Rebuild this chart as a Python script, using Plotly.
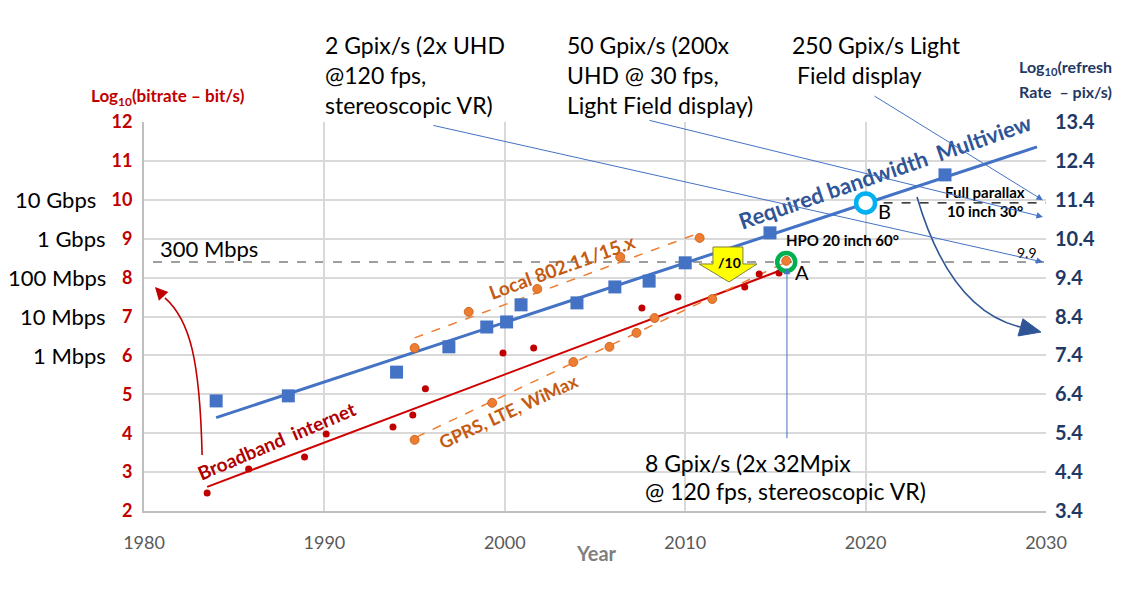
import plotly.graph_objects as go

# ---------------- data ----------------
blue_years = [1984.0, 1988.0, 1994.0, 1996.9, 1999.0, 2000.1, 2000.9, 2004.0, 2006.1, 2008.0, 2010.0, 2014.7, 2024.4]
blue_vals = [4.83, 4.96, 5.57, 6.22, 6.73, 6.86, 7.30, 7.35, 7.76, 7.91, 8.38, 9.15, 10.64]

red_years = [1983.5, 1985.8, 1988.9, 1990.1, 1993.8, 1994.9, 1995.6, 1999.9, 2001.6, 2007.6, 2009.6, 2013.3, 2014.1, 2015.2]
red_vals = [2.46, 3.08, 3.39, 3.98, 4.16, 4.47, 5.14, 6.06, 6.19, 7.22, 7.50, 7.76, 8.09, 8.12]

local_years = [1995.0, 1998.0, 2001.8, 2006.4, 2010.8]
local_vals = [6.19, 7.12, 7.71, 8.53, 9.02]

gprs_years = [1995.0, 1999.3, 2003.8, 2005.8, 2007.3, 2008.3, 2011.5, 2015.6]
gprs_vals = [3.83, 4.78, 5.83, 6.22, 6.58, 6.96, 7.45, 8.43]

blue_trend_years = [1984.0, 2029.5]
blue_trend_vals = [4.40, 11.36]
red_trend_years = [1983.5, 2015.3]
red_trend_vals = [2.62, 8.19]
local_trend_years = [1995.0, 2010.8]
local_trend_vals = [6.45, 9.15]
gprs_trend_years = [1995.1, 2015.6]
gprs_trend_vals = [3.90, 8.40]

point_a = (2015.6, 8.40)
point_b = (2020.0, 9.92)
level_300mbps = 8.40

left_ticks = [2, 3, 4, 5, 6, 7, 8, 9, 10, 11, 12]
right_ticks = [3.4, 4.4, 5.4, 6.4, 7.4, 8.4, 9.4, 10.4, 11.4, 12.4, 13.4]
right_ticktext = ["3.4", "4.4", "5.4", "6.4", "7.4", "8.4", "9.4", "10.4", "11.4", "12.4", "13.4"]
x_ticks = [1980, 1990, 2000, 2010, 2020, 2030]
rate_labels = ["10 Gbps", "1 Gbps", "100 Mbps", "10 Mbps", "1 Mbps"]
rate_levels = [10, 9, 8, 7, 6]

FONT = "Lato"
BLUE = "#4472C4"
RED = "#C00000"
ORANGE = "#ED7D31"
DORANGE = "#C55A11"
NAVY = "#1F3864"

fig = go.Figure()

# trend lines
fig.add_trace(go.Scatter(x=blue_trend_years, y=blue_trend_vals, mode="lines",
                         line=dict(color=BLUE, width=3), showlegend=False, hoverinfo="skip"))
fig.add_trace(go.Scatter(x=red_trend_years, y=red_trend_vals, mode="lines",
                         line=dict(color="#D00000", width=2), showlegend=False, hoverinfo="skip"))
fig.add_trace(go.Scatter(x=local_trend_years, y=local_trend_vals, mode="lines",
                         line=dict(color=ORANGE, width=1.5, dash="dash"), showlegend=False, hoverinfo="skip"))
fig.add_trace(go.Scatter(x=gprs_trend_years, y=gprs_trend_vals, mode="lines",
                         line=dict(color=ORANGE, width=1.5, dash="dash"), showlegend=False, hoverinfo="skip"))

# markers
fig.add_trace(go.Scatter(x=blue_years, y=blue_vals, mode="markers",
                         marker=dict(symbol="square", size=13, color=BLUE), showlegend=False))
fig.add_trace(go.Scatter(x=red_years, y=red_vals, mode="markers",
                         marker=dict(symbol="circle", size=7, color=RED), showlegend=False))
fig.add_trace(go.Scatter(x=local_years + gprs_years, y=local_vals + gprs_vals, mode="markers",
                         marker=dict(symbol="circle", size=9, color=ORANGE,
                                     line=dict(color="#C55A11", width=0.8)), showlegend=False))

# A and B rings
fig.add_trace(go.Scatter(x=[point_a[0]], y=[point_a[1]], mode="markers",
                         marker=dict(symbol="circle-open", size=18, color="#00B050", line=dict(width=4.5)),
                         showlegend=False))
fig.add_trace(go.Scatter(x=[point_b[0]], y=[point_b[1]], mode="markers",
                         marker=dict(symbol="circle", size=19, color="white", line=dict(color="#00B0F0", width=4.5)),
                         showlegend=False))

# invisible trace for right axis
fig.add_trace(go.Scatter(x=[None], y=[None], yaxis="y2", showlegend=False))

shapes = []
# 300 Mbps dashed line
shapes.append(dict(type="line", xref="x", yref="y", x0=1980.5, x1=2030, y0=level_300mbps, y1=level_300mbps,
                   line=dict(color="#7F7F7F", width=1.5, dash="dash"), layer="below"))
# dashed from B
shapes.append(dict(type="line", xref="x", yref="y", x0=point_b[0], x1=2030, y0=point_b[1], y1=point_b[1],
                   line=dict(color="black", width=1.2, dash="dash"), layer="below"))
# red curved arrow
shapes.append(dict(type="path", xref="x", yref="y",
                   path="M 1983.22,3.44 C 1983.10,5.88 1982.55,6.91 1981.16,7.48",
                   line=dict(color=RED, width=1.6)))
# blue curved arrow
shapes.append(dict(type="path", xref="x", yref="y",
                   path="M 2022.85,10.07 Q 2024.68,7.17 2028.56,6.73",
                   line=dict(color="#2F5597", width=1.6)))
shapes.append(dict(type="path", xref="x", yref="y",
                   path="M 2029.72,6.60 L 2028.72,6.94 L 2028.45,6.50 Z",
                   fillcolor="#2F5597", line=dict(color="#2F5597", width=1)))
# yellow block arrow
shapes.append(dict(type="path", xref="x", yref="y",
                   path="M 2011.54,8.787 L 2013.20,8.787 L 2013.20,8.35 L 2013.98,8.35 L 2012.43,7.887 "
                        "L 2010.77,8.35 L 2011.54,8.35 Z",
                   fillcolor="#FFFF00", line=dict(color="#7F7F3F", width=1)))

ann = []


def txt(x, y, text, size=23, color="black", xanchor="left", bold=False, xref="paper", yref="paper",
        angle=0, yanchor="middle"):
    ann.append(dict(x=x, y=y, xref=xref, yref=yref, text=text, showarrow=False, xanchor=xanchor,
                    yanchor=yanchor, textangle=angle,
                    font=dict(family=FONT, size=size, color=color, weight="bold" if bold else "normal")))


def arrow(xt, yt, xs, ys, color=BLUE, width=1, head=2, size=1.3):
    ann.append(dict(x=xt, y=yt, ax=xs, ay=ys, xref="x", yref="y", axref="x", ayref="y", text="",
                    showarrow=True, arrowhead=head, arrowsize=size, arrowwidth=width, arrowcolor=color,
                    standoff=0, startstandoff=0))


# axis titles
txt(0.027, 1.064, "Log<sub>10</sub>(bitrate – bit/s)", size=17, color=RED, xanchor="center", bold=True)
txt(0.968, 1.140, "Log<sub>10</sub>(refresh", size=16, color=NAVY, bold=True)
txt(0.968, 1.078, "Rate  – pix/s)", size=16, color=NAVY, bold=True)
txt(0.502, -0.108, "Year", size=20, color="#7F7F7F", xanchor="center", bold=True)

# rate labels on the left
for lab, lv in zip(rate_labels, rate_levels):
    ann.append(dict(x=-0.040 if lab != "10 Gbps" else -0.051, y=lv, xref="paper", yref="y", text=lab,
                    showarrow=False, xanchor="right", yanchor="middle",
                    font=dict(family=FONT, size=22, color="black")))

# 300 Mbps
ann.append(dict(x=1980.78, y=level_300mbps, xref="x", yref="y", text="300 Mbps", showarrow=False,
                xanchor="left", yanchor="bottom", yshift=-2, font=dict(family=FONT, size=22, color="black")))

# top texts
txt(0.1984, 1.198, "2 Gpix/s (2x UHD")
txt(0.1984, 1.121, "@120 fps,")
txt(0.1984, 1.044, "stereoscopic VR)")
txt(0.4667, 1.198, "50 Gpix/s (200x")
txt(0.4667, 1.121, "UHD @ 30 fps,")
txt(0.4667, 1.044, "Light Field display)")
txt(0.7162, 1.198, "250 Gpix/s Light")
txt(0.7217, 1.121, "Field display")
txt(0.5532, 0.123, "8 Gpix/s (2x 32Mpix")
txt(0.5532, 0.051, "@ 120 fps, stereoscopic VR)")

# small labels
ann.append(dict(x=2018.7, y=8.97, xref="x", yref="y", text="HPO 20 inch 60°", showarrow=False,
                xanchor="center", yanchor="middle",
                font=dict(family=FONT, size=15, color="black", weight="bold")))
ann.append(dict(x=2026.6, y=10.20, xref="x", yref="y", text="Full parallax", showarrow=False,
                xanchor="center", yanchor="middle",
                font=dict(family=FONT, size=15, color="black", weight="bold")))
ann.append(dict(x=2026.6, y=9.71, xref="x", yref="y", text="10 inch 30°", showarrow=False,
                xanchor="center", yanchor="middle",
                font=dict(family=FONT, size=15, color="black", weight="bold")))
ann.append(dict(x=2028.95, y=8.65, xref="x", yref="y", text="9.9", showarrow=False,
                xanchor="center", yanchor="middle", font=dict(family=FONT, size=14, color="black")))
ann.append(dict(x=2016.0, y=8.15, xref="x", yref="y", text="A", showarrow=False,
                xanchor="left", font=dict(family=FONT, size=20, color="black")))
ann.append(dict(x=2020.6, y=9.70, xref="x", yref="y", text="B", showarrow=False,
                xanchor="left", font=dict(family=FONT, size=20, color="black")))
ann.append(dict(x=2012.43, y=8.40, xref="x", yref="y", text="/10", showarrow=False,
                xanchor="center", font=dict(family=FONT, size=14, color="black", weight="bold")))

# rotated labels
txt(2021.08, 10.74, "Required bandwidth  Multiview", size=22, color="#2F5597", xanchor="center", bold=True,
    xref="x", yref="y", angle=-19)
txt(2003.17, 8.28, "Local 802.11/15.x", size=19, color=DORANGE, xanchor="center", bold=True,
    xref="x", yref="y", angle=-20)
txt(2000.23, 4.57, "GPRS, LTE, WiMax", size=18, color=DORANGE, xanchor="center", bold=True,
    xref="x", yref="y", angle=-25)
txt(1987.37, 3.80, "Broadband  internet", size=19, color="#B00000", xanchor="center", bold=True,
    xref="x", yref="y", angle=-23)

# arrows
arrow(2029.83, level_300mbps, 1995.96, 11.92)
arrow(2029.83, 9.56, 2007.94, 12.05)
arrow(2029.83, 9.99, 2020.41, 12.69)
arrow(2015.64, 8.25, 2015.64, 3.83)
arrow(1980.61, 7.76, 1981.16, 7.48, color=RED, width=1.6, head=2, size=1.6)

fig.update_layout(
    width=1140, height=590,
    margin=dict(l=144, r=94, t=122, b=79),
    paper_bgcolor="white", plot_bgcolor="white",
    font=dict(family=FONT),
    shapes=shapes, annotations=ann,
    xaxis=dict(range=[1980, 2030], tickvals=x_ticks, showgrid=True, gridcolor="#D9D9D9", gridwidth=2,
               showline=True, linecolor="#BFBFBF", linewidth=2, zeroline=False,
               tickfont=dict(family=FONT, size=18, color="#595959"), ticklabelstandoff=14),
    yaxis=dict(range=[2, 12], tickvals=left_ticks, showgrid=True, gridcolor="#D9D9D9", gridwidth=2,
               showline=True, linecolor="#BFBFBF", linewidth=2, zeroline=False,
               tickfont=dict(family=FONT, size=18, color=RED, weight="bold"), ticklabelstandoff=6),
    yaxis2=dict(range=[3.4, 13.4], tickvals=right_ticks, ticktext=right_ticktext, overlaying="y",
                side="right", showgrid=False, zeroline=False, showline=False,
                tickfont=dict(family=FONT, size=20, color=NAVY, weight="bold"), ticklabelstandoff=8),
    showlegend=False,
)

fig.write_html("out.html")
